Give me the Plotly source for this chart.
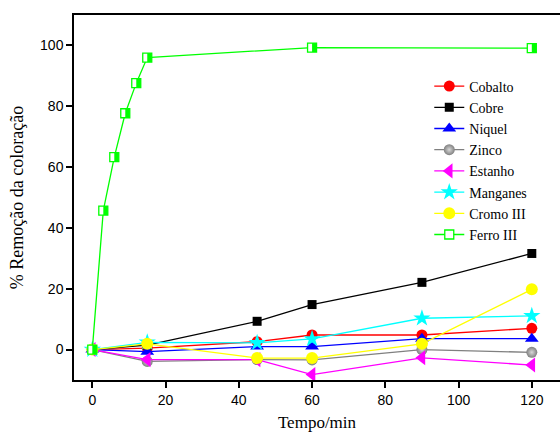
import plotly.graph_objects as go

# Tempo de contacto (min)
t_main = [0, 15, 45, 60, 90, 120]
t_ferro = [0, 3, 6, 9, 12, 15, 60, 120]

# % remoção da coloração por metal
cobalto = [0, 0.5, 2.6, 4.8, 4.8, 7.0]
cobre = [0, 1.5, 9.3, 14.8, 22.1, 31.6]
niquel = [0, -0.7, 1.0, 1.0, 3.6, 3.6]
zinco = [0, -3.9, -3.3, -3.4, 0.0, -0.9]
estanho = [0, -3.3, -3.3, -8.2, -2.7, -5.1]
manganes = [0, 2.4, 2.2, 3.5, 10.3, 11.1]
cromo = [0, 1.9, -2.8, -2.8, 1.9, 19.8]
ferro = [0, 45.7, 63.3, 77.7, 87.6, 96.0, 99.3, 99.1]

series = [
    ("Cobalto", t_main, cobalto, "#ff0000", dict(symbol="circle", size=11)),
    ("Cobre", t_main, cobre, "#000000", dict(symbol="square", size=9)),
    ("Niquel", t_main, niquel, "#0000ff", dict(symbol="triangle-up", size=12)),
    ("Zinco", t_main, zinco, "#808080",
     dict(symbol="circle", size=11, gradient=dict(type="radial", color="#d8d8d8"))),
    ("Estanho", t_main, estanho, "#ff00ff", dict(symbol="triangle-left", size=13)),
    ("Manganes", t_main, manganes, "#00ffff", dict(symbol="star", size=13)),
    ("Cromo III", t_main, cromo, "#ffff00", dict(symbol="circle", size=12)),
]

fig = go.Figure()
for name, x, y, color, mk in series:
    marker = dict(color=color, line=dict(width=0, color=color))
    marker.update(mk)
    fig.add_trace(go.Scatter(x=x, y=y, name=name, mode="lines+markers",
                             line=dict(color=color, width=1.3), marker=marker))

# Ferro III: half-filled square (left white, right green)
fig.add_trace(go.Scatter(
    x=t_ferro, y=ferro, name="Ferro III", mode="lines+markers",
    line=dict(color="#00ff00", width=1.3),
    marker=dict(symbol="square", size=9, color="#ffffff",
                line=dict(color="#00ff00", width=1.3))))
for xv, yv in zip(t_ferro, ferro):
    fig.add_shape(type="rect", xref="x", yref="y",
                  xsizemode="pixel", ysizemode="pixel",
                  xanchor=xv, yanchor=yv, x0=0, x1=4.5, y0=-4.5, y1=4.5,
                  fillcolor="#00ff00", line=dict(width=0))

fig.update_layout(
    width=560, height=437,
    margin=dict(l=74, r=0, t=15, b=57),
    plot_bgcolor="white", paper_bgcolor="white",
    showlegend=True,
    legend=dict(x=0.731, y=0.848, xanchor="left", yanchor="top",
                font=dict(family="Liberation Serif", size=14, color="black"),
                bgcolor="rgba(0,0,0,0)", tracegroupgap=0, itemwidth=30),
    xaxis=dict(range=[-5, 127.7], tickvals=[0, 20, 40, 60, 80, 100, 120],
               showline=True, linecolor="black", linewidth=1.5, mirror=True,
               ticks="outside", ticklen=6, tickcolor="black", tickwidth=1.5,
               showgrid=False, zeroline=False,
               tickfont=dict(family="Liberation Sans", size=14, color="black"),
               title=dict(text="Tempo/min", standoff=10,
                          font=dict(family="Liberation Serif", size=17, color="black"))),
    yaxis=dict(range=[-10, 110], tickvals=[0, 20, 40, 60, 80, 100],
               showline=True, linecolor="black", linewidth=1.5, mirror=False,
               ticks="outside", ticklen=6, tickcolor="black", tickwidth=1.5,
               showgrid=False, zeroline=False,
               tickfont=dict(family="Liberation Sans", size=14, color="black"),
               title=dict(text="% Remoção da coloração", standoff=12,
                          font=dict(family="Liberation Serif", size=18, color="black"))),
)

fig.write_html("out.html")
